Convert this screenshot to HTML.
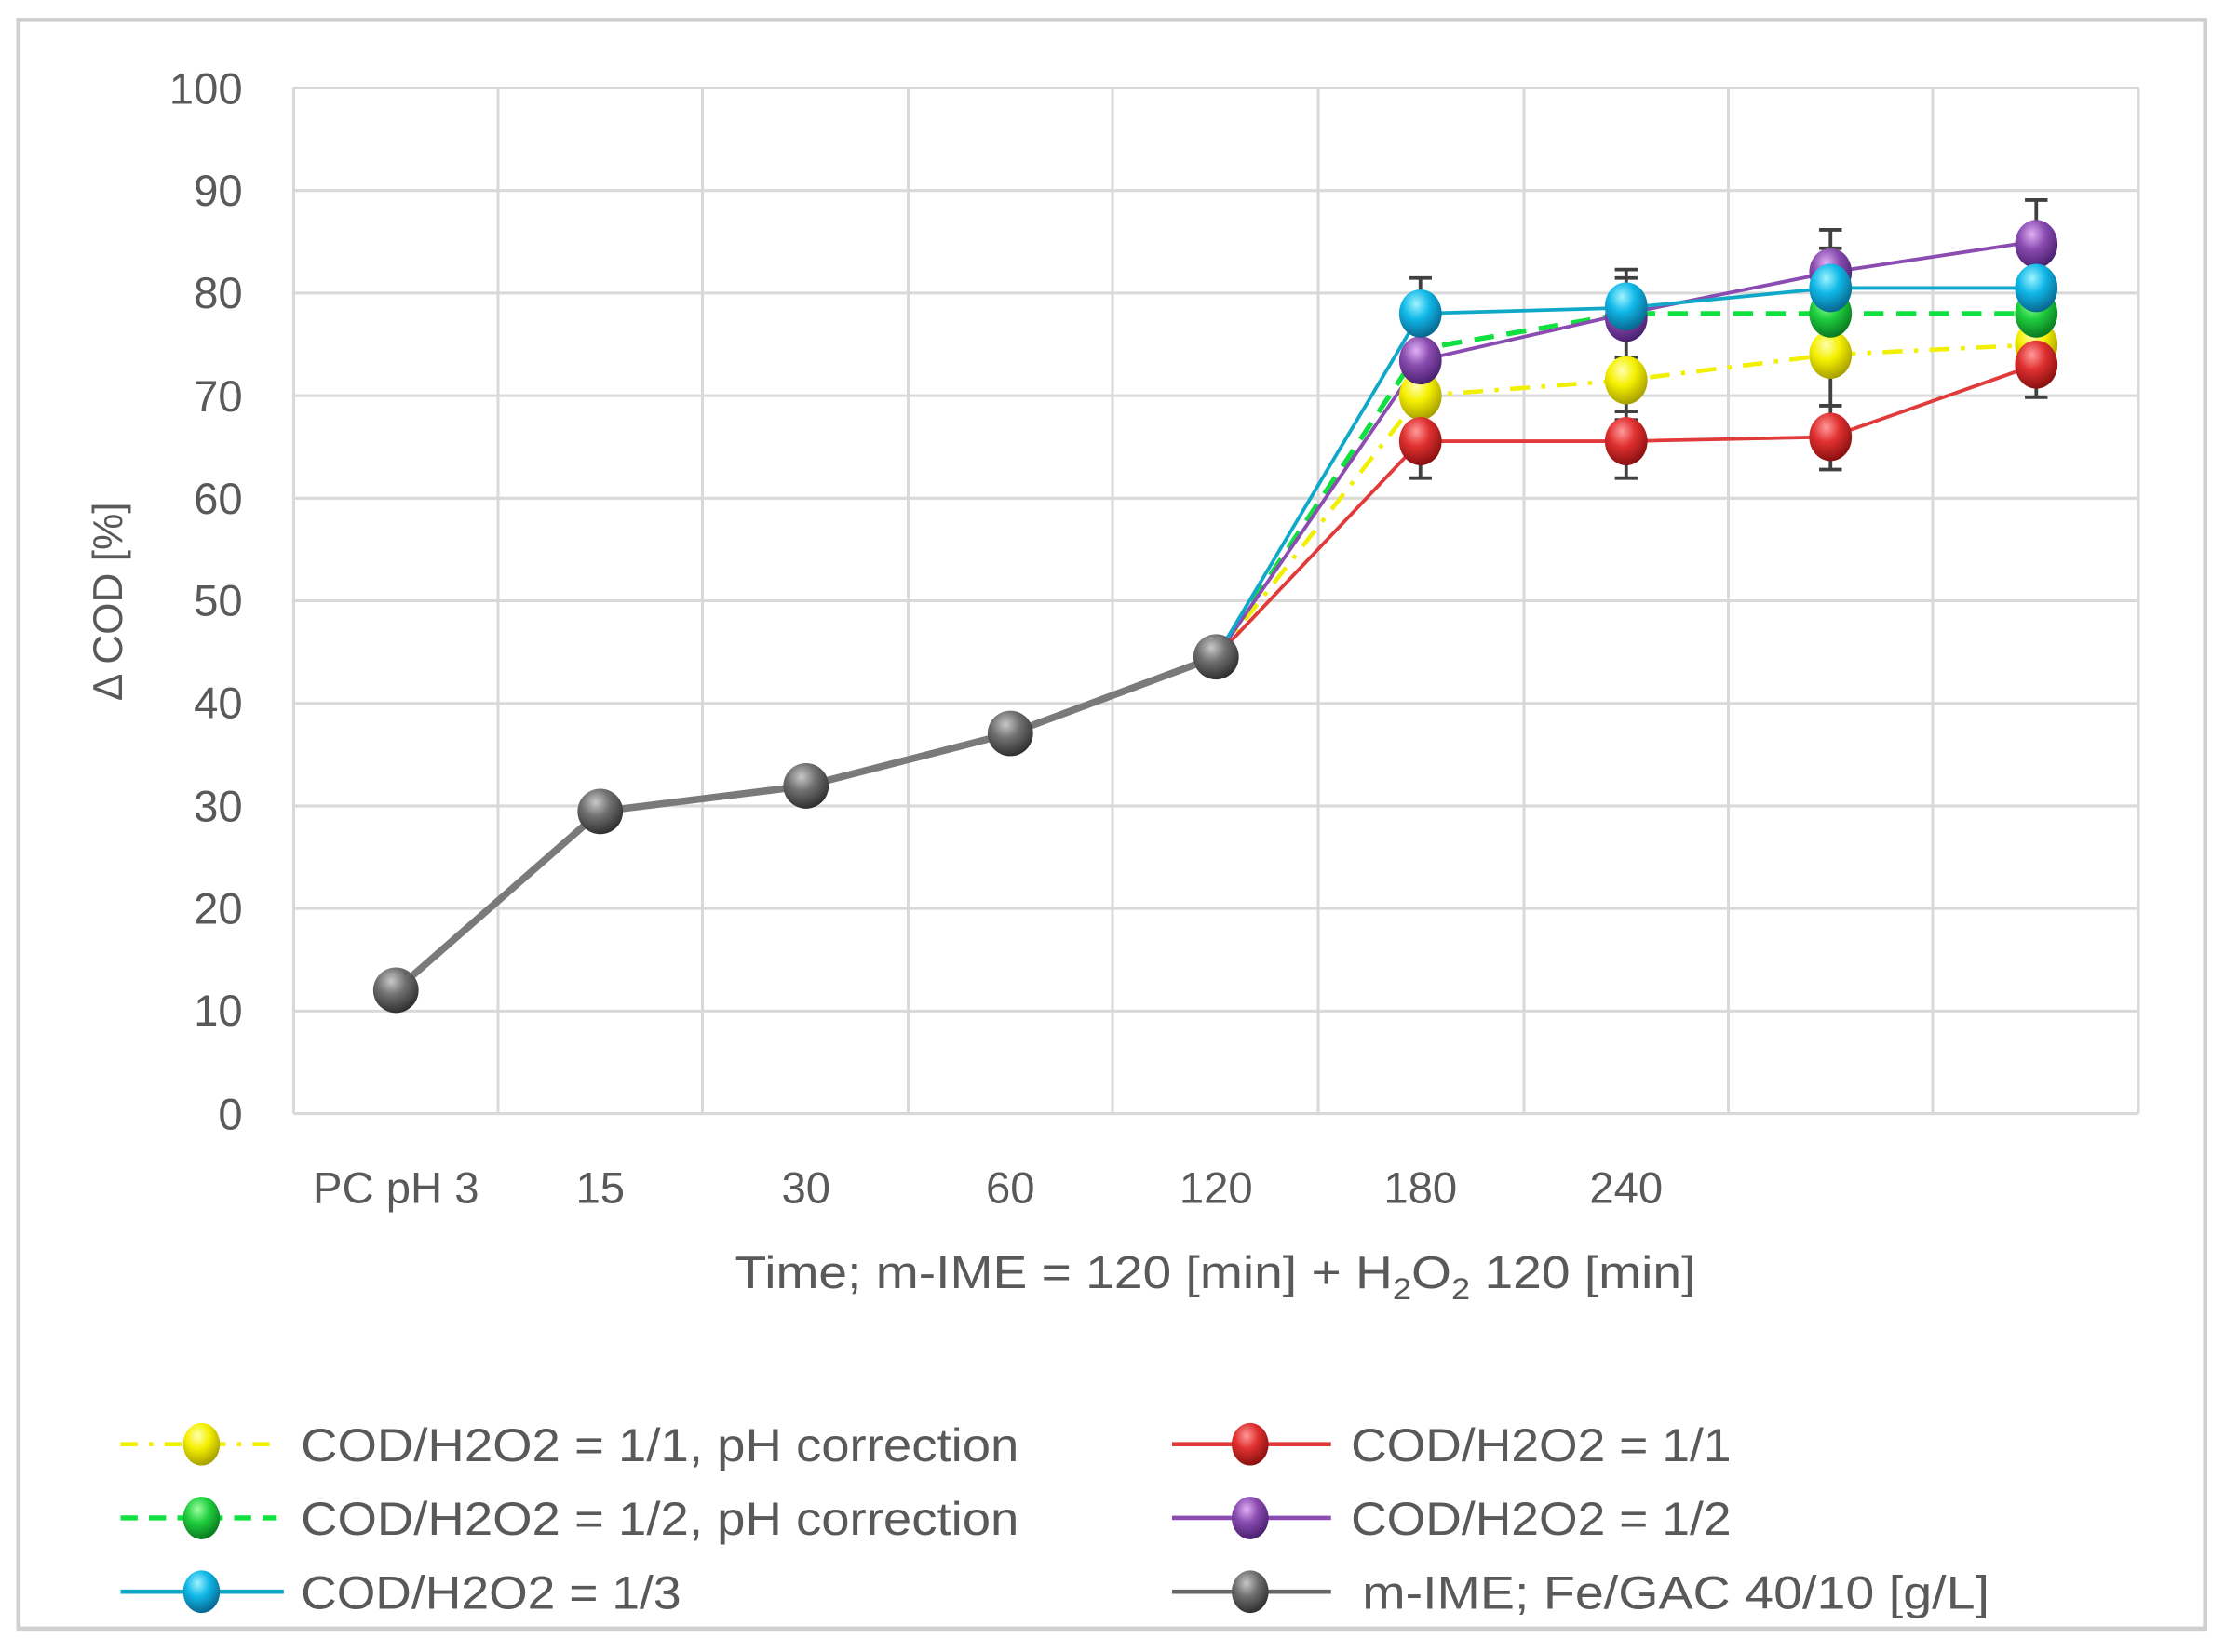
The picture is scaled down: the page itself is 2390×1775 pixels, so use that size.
<!DOCTYPE html>
<html><head><meta charset="utf-8"><style>
html,body{margin:0;padding:0;background:#fff;}
svg{display:block;}
text{font-family:"Liberation Sans Narrow","Liberation Sans",sans-serif;fill:#595959;}
</style></head><body>
<svg width="2390" height="1775" viewBox="0 0 1568 1164.5" preserveAspectRatio="none" xmlns="http://www.w3.org/2000/svg">
<defs>
<radialGradient id="gy" cx="40%" cy="30%" r="70%"><stop offset="0" stop-color="#ffffb0"/><stop offset="0.45" stop-color="#f5f000"/><stop offset="1" stop-color="#a8a000"/></radialGradient>
<radialGradient id="gr" cx="40%" cy="30%" r="70%"><stop offset="0" stop-color="#ff9a9a"/><stop offset="0.45" stop-color="#e03030"/><stop offset="1" stop-color="#8a1010"/></radialGradient>
<radialGradient id="gg" cx="40%" cy="30%" r="70%"><stop offset="0" stop-color="#a0ffa0"/><stop offset="0.45" stop-color="#20d040"/><stop offset="1" stop-color="#0a7a20"/></radialGradient>
<radialGradient id="gp" cx="40%" cy="30%" r="70%"><stop offset="0" stop-color="#e0b0f5"/><stop offset="0.45" stop-color="#8a4cb0"/><stop offset="1" stop-color="#4a2070"/></radialGradient>
<radialGradient id="gc" cx="40%" cy="30%" r="70%"><stop offset="0" stop-color="#a0f4ff"/><stop offset="0.45" stop-color="#10b8e8"/><stop offset="1" stop-color="#086890"/></radialGradient>
<radialGradient id="gk" cx="40%" cy="30%" r="70%"><stop offset="0" stop-color="#c8c8c8"/><stop offset="0.45" stop-color="#707070"/><stop offset="1" stop-color="#303030"/></radialGradient>
</defs>
<rect x="0" y="0" width="1568" height="1164.5" fill="#fff"/>
<rect x="13" y="14" width="1541" height="1134" fill="none" stroke="#d0d0d0" stroke-width="3"/>
<g stroke="#d9d9d9" stroke-width="2">
<line x1="207" y1="62" x2="1507" y2="62"/><line x1="207" y1="134.3" x2="1507" y2="134.3"/>
<line x1="207" y1="206.6" x2="1507" y2="206.6"/><line x1="207" y1="278.9" x2="1507" y2="278.9"/>
<line x1="207" y1="351.2" x2="1507" y2="351.2"/><line x1="207" y1="423.5" x2="1507" y2="423.5"/>
<line x1="207" y1="495.8" x2="1507" y2="495.8"/><line x1="207" y1="568.1" x2="1507" y2="568.1"/>
<line x1="207" y1="640.4" x2="1507" y2="640.4"/><line x1="207" y1="712.7" x2="1507" y2="712.7"/>
<line x1="207" y1="785" x2="1507" y2="785"/>
<line x1="207" y1="62" x2="207" y2="785"/><line x1="351" y1="62" x2="351" y2="785"/>
<line x1="495" y1="62" x2="495" y2="785"/><line x1="640" y1="62" x2="640" y2="785"/>
<line x1="784" y1="62" x2="784" y2="785"/><line x1="929" y1="62" x2="929" y2="785"/>
<line x1="1074" y1="62" x2="1074" y2="785"/><line x1="1218" y1="62" x2="1218" y2="785"/>
<line x1="1362" y1="62" x2="1362" y2="785"/><line x1="1507" y1="62" x2="1507" y2="785"/>
</g>
<g font-size="31" text-anchor="end">
<text x="171" y="73">100</text><text x="171" y="145">90</text><text x="171" y="217">80</text>
<text x="171" y="290">70</text><text x="171" y="362">60</text><text x="171" y="434">50</text>
<text x="171" y="506">40</text><text x="171" y="579">30</text><text x="171" y="651">20</text>
<text x="171" y="723">10</text><text x="171" y="796">0</text>
</g>
<g font-size="31" text-anchor="middle">
<text x="279" y="848">PC pH 3</text><text x="423" y="848">15</text><text x="568" y="848">30</text>
<text x="712" y="848">60</text><text x="857" y="848">120</text><text x="1001" y="848">180</text>
<text x="1146" y="848">240</text>
</g>
<text x="518" y="908" font-size="32" textLength="677" lengthAdjust="spacingAndGlyphs">Time; m-IME = 120 [min] + H<tspan font-size="21" dy="8">2</tspan><tspan dy="-8">O</tspan><tspan font-size="21" dy="8">2</tspan><tspan dy="-8"> 120 [min]</tspan></text>
<text x="0" y="0" font-size="29" text-anchor="middle" transform="translate(86,424) rotate(-90)">Δ COD [%]</text>
<g stroke="#404040" stroke-width="2.5">
<line x1="1001" y1="196" x2="1001" y2="337"/><line x1="993" y1="196" x2="1009" y2="196"/><line x1="993" y1="337" x2="1009" y2="337"/>
<line x1="1146" y1="190" x2="1146" y2="337"/><line x1="1138" y1="190" x2="1154" y2="190"/><line x1="1138" y1="196" x2="1154" y2="196"/><line x1="1138" y1="337" x2="1154" y2="337"/><line x1="1138" y1="290" x2="1154" y2="290"/><line x1="1138" y1="296" x2="1154" y2="296"/><line x1="1138" y1="252" x2="1154" y2="252"/>
<line x1="1290" y1="162" x2="1290" y2="331"/><line x1="1282" y1="162" x2="1298" y2="162"/><line x1="1282" y1="175" x2="1298" y2="175"/><line x1="1282" y1="331" x2="1298" y2="331"/><line x1="1282" y1="286" x2="1298" y2="286"/><line x1="1282" y1="295" x2="1298" y2="295"/>
<line x1="1435" y1="141" x2="1435" y2="280"/><line x1="1427" y1="141" x2="1443" y2="141"/><line x1="1427" y1="280" x2="1443" y2="280"/>
</g>
<polyline points="279,698 423,572 568,554 712,517 857,463" fill="none" stroke="#7a7a7a" stroke-width="5"/>
<polyline points="857,463 1001,279 1146,268 1290,250 1435,243" fill="none" stroke="#f0f000" stroke-width="3" stroke-dasharray="14,8,3,8"/>
<polyline points="857,463 1001,311 1146,311 1290,308 1435,257" fill="none" stroke="#e03a3a" stroke-width="2.5"/>
<polyline points="857,463 1001,246 1146,221 1290,221 1435,221" fill="none" stroke="#10e040" stroke-width="3.5" stroke-dasharray="14,9"/>
<polyline points="857,463 1001,254 1146,221 1290,192 1435,170" fill="none" stroke="#8a4cb0" stroke-width="2.5"/>
<polyline points="857,463 1001,221 1146,217 1290,203 1435,203" fill="none" stroke="#10a8c8" stroke-width="2.5"/>
<g>
<circle cx="279" cy="698" r="16" fill="url(#gk)"/><circle cx="423" cy="572" r="16" fill="url(#gk)"/>
<circle cx="568" cy="554" r="16" fill="url(#gk)"/><circle cx="712" cy="517" r="16" fill="url(#gk)"/>
<circle cx="857" cy="463" r="16" fill="url(#gk)"/>
<ellipse cx="1001" cy="279" rx="15" ry="17" fill="url(#gy)"/><ellipse cx="1146" cy="268" rx="15" ry="17" fill="url(#gy)"/>
<ellipse cx="1290" cy="250" rx="15" ry="17" fill="url(#gy)"/><ellipse cx="1435" cy="243" rx="15" ry="17" fill="url(#gy)"/>
<ellipse cx="1001" cy="311" rx="15" ry="17" fill="url(#gr)"/><ellipse cx="1146" cy="311" rx="15" ry="17" fill="url(#gr)"/>
<ellipse cx="1290" cy="308" rx="15" ry="17" fill="url(#gr)"/><ellipse cx="1290" cy="221" rx="15" ry="17" fill="url(#gg)"/>
<ellipse cx="1435" cy="221" rx="15" ry="17" fill="url(#gg)"/>
<ellipse cx="1435" cy="257" rx="15" ry="17" fill="url(#gr)"/>
<ellipse cx="1001" cy="254" rx="15" ry="17" fill="url(#gp)"/><ellipse cx="1146" cy="224" rx="15" ry="17" fill="url(#gp)"/>
<ellipse cx="1290" cy="192" rx="15" ry="17" fill="url(#gp)"/><ellipse cx="1435" cy="172" rx="15" ry="17" fill="url(#gp)"/>
<ellipse cx="1001" cy="221" rx="15" ry="17" fill="url(#gc)"/><ellipse cx="1146" cy="216" rx="15" ry="17" fill="url(#gc)"/>
<ellipse cx="1290" cy="203" rx="15" ry="17" fill="url(#gc)"/><ellipse cx="1435" cy="203" rx="15" ry="17" fill="url(#gc)"/>
</g>
<g>
<line x1="85" y1="1018" x2="195" y2="1018" stroke="#f0f000" stroke-width="3" stroke-dasharray="12,8,3,8"/>
<ellipse cx="142" cy="1018" rx="13" ry="15" fill="url(#gy)"/>
<line x1="85" y1="1070" x2="195" y2="1070" stroke="#10e040" stroke-width="3.5" stroke-dasharray="12,8"/>
<ellipse cx="142" cy="1070" rx="13" ry="15" fill="url(#gg)"/>
<line x1="85" y1="1122" x2="200" y2="1122" stroke="#10a8c8" stroke-width="3"/>
<ellipse cx="142" cy="1122" rx="13" ry="15" fill="url(#gc)"/>
<line x1="826" y1="1018" x2="938" y2="1018" stroke="#e03a3a" stroke-width="3"/>
<ellipse cx="881" cy="1018" rx="13" ry="15" fill="url(#gr)"/>
<line x1="826" y1="1070" x2="938" y2="1070" stroke="#8a4cb0" stroke-width="3"/>
<ellipse cx="881" cy="1070" rx="13" ry="15" fill="url(#gp)"/>
<line x1="826" y1="1122" x2="938" y2="1122" stroke="#666" stroke-width="3"/>
<ellipse cx="881" cy="1122" rx="13" ry="15" fill="url(#gk)"/>
<g font-size="33">
<text x="212" y="1030" textLength="506" lengthAdjust="spacingAndGlyphs">COD/H2O2 = 1/1, pH correction</text>
<text x="212" y="1082" textLength="506" lengthAdjust="spacingAndGlyphs">COD/H2O2 = 1/2, pH correction</text>
<text x="212" y="1134" textLength="268" lengthAdjust="spacingAndGlyphs">COD/H2O2 = 1/3</text>
<text x="952" y="1030" textLength="268" lengthAdjust="spacingAndGlyphs">COD/H2O2 = 1/1</text>
<text x="952" y="1082" textLength="268" lengthAdjust="spacingAndGlyphs">COD/H2O2 = 1/2</text>
<text x="960" y="1134" textLength="442" lengthAdjust="spacingAndGlyphs">m-IME; Fe/GAC  40/10 [g/L]</text>
</g>
</g>
</svg>
</body></html>
